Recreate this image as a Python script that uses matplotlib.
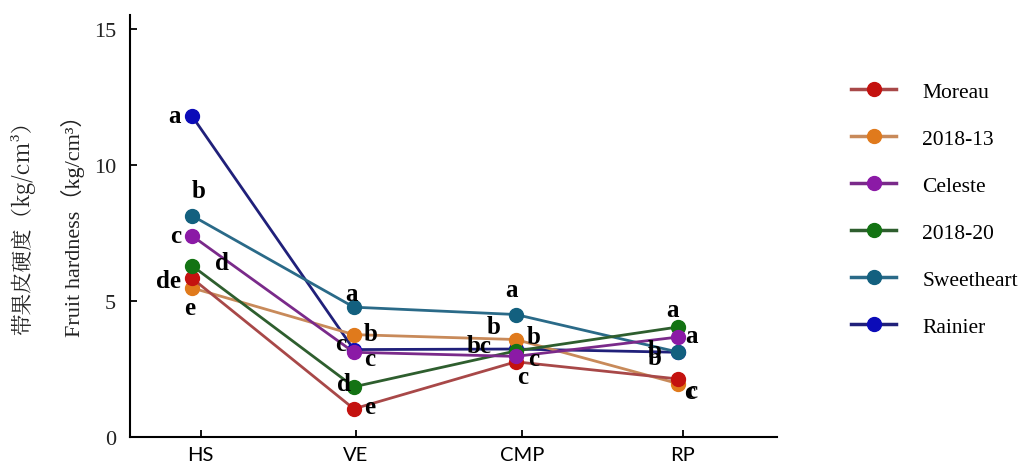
import matplotlib
matplotlib.use("Agg")
import matplotlib.pyplot as plt

# ---- data ----
stages = ["HS", "VE", "CMP", "RP"]
series_names = ["Moreau", "2018-13", "Celeste", "2018-20", "Sweetheart", "Rainier"]
moreau = [5.83, 1.02, 2.75, 2.12]
v2018_13 = [5.47, 3.75, 3.57, 1.95]
celeste = [7.39, 3.10, 2.95, 3.66]
v2018_20 = [6.29, 1.83, 3.15, 4.03]
sweetheart = [8.13, 4.76, 4.49, 3.11]
rainier = [11.8, 3.20, 3.22, 3.10]
y_ticks = [0, 5, 10, 15]

# significance letters: (series, stage index, letter)
letters = [
    ("Rainier", 0, "a"), ("Sweetheart", 0, "b"), ("Celeste", 0, "c"),
    ("2018-20", 0, "d"), ("Moreau", 0, "de"), ("2018-13", 0, "e"),
    ("Sweetheart", 1, "a"), ("2018-13", 1, "b"), ("Celeste", 1, "c"),
    ("Rainier", 1, "c"), ("2018-20", 1, "d"), ("Moreau", 1, "e"),
    ("Sweetheart", 2, "a"), ("2018-13", 2, "b"), ("Rainier", 2, "b"),
    ("2018-20", 2, "bc"), ("Celeste", 2, "c"), ("Moreau", 2, "c"),
    ("2018-20", 3, "a"), ("Celeste", 3, "a"), ("Sweetheart", 3, "b"),
    ("Rainier", 3, "b"), ("Moreau", 3, "c"), ("2018-13", 3, "c"),
]
# letter offsets in pixels (layout only)
letter_offsets = [
    (-17, 0), (7, 25), (-16, 0), (30, 3), (-23, -2), (-2, -20),
    (-2, 14), (17, 1), (-13, 9), (16, -9), (-10, 3), (16, 2),
    (-4, 25), (-22, 13), (18, 13), (-37, 5), (18, -2), (7, -15),
    (-5, 18), (14, 2), (-23, 2), (-23, -5), (12, -13), (14, -7),
]

values = {
    "Moreau": moreau, "2018-13": v2018_13, "Celeste": celeste,
    "2018-20": v2018_20, "Sweetheart": sweetheart, "Rainier": rainier,
}
marker_colors = {
    "Moreau": "#c4120f", "2018-13": "#e07a1c", "Celeste": "#8b1aa6",
    "2018-20": "#137313", "Sweetheart": "#13607f", "Rainier": "#0b0bb8",
}
line_colors = {
    "Moreau": "#a84848", "2018-13": "#c88a5a", "Celeste": "#7a2a8a",
    "2018-20": "#2e5e2e", "Sweetheart": "#2a6a88", "Rainier": "#20207a",
}
zorders = {"Rainier": 2, "Sweetheart": 3, "2018-13": 4, "Moreau": 5,
           "Celeste": 6, "2018-20": 5.5}

fig = plt.figure(figsize=(10.22, 4.64), dpi=100)
ax = fig.add_axes([0.127, 0.057, 0.633, 0.908])

x = list(range(len(stages)))
tick_pos = [0.055, 0.012, 0.037, 0.031]   # ticks sit slightly right of points
tick_pos = [i + d for i, d in zip(x, tick_pos)]
handles = {}
for name in series_names:
    h, = ax.plot(x, values[name], color=line_colors[name], lw=2,
                 marker="o", ms=10, mfc=marker_colors[name],
                 mec=marker_colors[name], zorder=zorders[name], label=name)
    handles[name] = h

for (name, i, txt), (dx, dy) in zip(letters, letter_offsets):
    ax.annotate(txt, (x[i], values[name][i]), xytext=(dx, dy),
                textcoords="offset pixels", ha="center", va="center",
                fontsize=18, fontweight="bold", family="Liberation Serif",
                color="black", zorder=10)

ax.set_xlim(-0.383, 3.61)
ax.set_ylim(0, 15.5)
ax.set_xticks(tick_pos)
ax.set_xticklabels(stages, family="Lato", fontsize=14.5)
ax.set_yticks(y_ticks)
ax.set_yticklabels([str(t) for t in y_ticks], family="Liberation Serif",
                   fontsize=16, color="#222222")
ax.tick_params(axis="both", direction="in", length=5, width=1.3)
ax.tick_params(axis="y", pad=10)
ax.tick_params(axis="x", pad=7)
for s in ["top", "right"]:
    ax.spines[s].set_visible(False)
for s in ["left", "bottom"]:
    ax.spines[s].set_linewidth(1.5)

fig.text(0.0225, 0.52, "带果皮硬度（kg/cm³）", rotation=90, ha="center",
         va="center", fontsize=15.5,
         family=["Noto Serif CJK SC", "Noto Sans CJK SC", "DejaVu Sans"],
         color="#222222")
fig.text(0.071, 0.525, "Fruit hardness（kg/cm³）", rotation=90, ha="center",
         va="center", fontsize=16,
         family=["Liberation Serif", "Noto Sans CJK SC"], color="#222222")

leg = fig.legend([handles[n] for n in series_names], series_names,
                 loc="upper left", bbox_to_anchor=(0.8245, 0.84),
                 frameon=False, prop={"family": "Liberation Serif", "size": 15.5},
                 handlelength=2.1, labelspacing=1.25, handletextpad=1.2,
                 borderaxespad=0)
for lh in leg.legend_handles:
    lh.set_linewidth(2.5)

fig.savefig("out.png", dpi=100)
